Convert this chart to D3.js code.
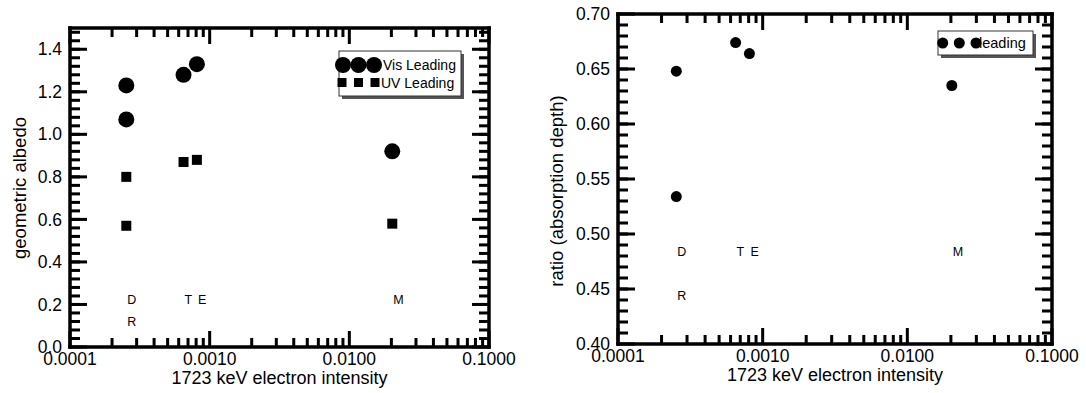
<!DOCTYPE html>
<meta charset="utf-8">
<style>
body { margin: 0; background: #fff; }
text { font-family: "Liberation Sans", Arial, Helvetica, sans-serif; fill: #000; }
</style>
<svg width="1086" height="393"></svg>
<script src="https://d3js.org/d3.v7.min.js"></script>
<script>

// data
var sites = ["D", "R", "T", "E", "M"];
var intensity = [0.000253, 0.000253, 0.00065, 0.00081, 0.0203];
var visAlbedo = [1.23, 1.07, 1.28, 1.33, 0.92];
var uvAlbedo = [0.80, 0.57, 0.87, 0.88, 0.58];
var depthRatio = [0.648, 0.534, 0.674, 0.664, 0.635];
var labelRow = [0, 1, 0, 0, 0];

var xMajor = [0.0001, 0.001, 0.01, 0.1];
var xMinor = [];
xMajor.slice(0, 3).forEach(function(d) { for (var k = 2; k < 10; k++) xMinor.push(d * k); });

var svg = d3.select("svg");
var TW = 3; // tick thickness

function drawPanel(p) {
  var x = d3.scaleLog().domain([1e-4, 1e-1]).range([p.left, p.right]);
  var y = d3.scaleLinear().domain(p.yDomain).range([p.bottom, p.top]);
  var g = svg.append("g");

  // inward ticks on all four sides, as small filled bars
  function xticks(vals, len) {
    var t = g.append("g").attr("fill", "#000");
    t.selectAll(".b").data(vals).enter().append("rect")
      .attr("x", function(d) { return x(d) - TW / 2; }).attr("y", p.bottom - len)
      .attr("width", TW).attr("height", len);
    t.selectAll(".t").data(vals).enter().append("rect")
      .attr("x", function(d) { return x(d) - TW / 2; }).attr("y", p.top)
      .attr("width", TW).attr("height", len);
  }
  function yticks(vals, len) {
    var t = g.append("g").attr("fill", "#000");
    t.selectAll(".l").data(vals).enter().append("rect")
      .attr("y", function(d) { return y(d) - TW / 2; }).attr("x", p.left)
      .attr("height", TW).attr("width", len);
    t.selectAll(".r").data(vals).enter().append("rect")
      .attr("y", function(d) { return y(d) - TW / 2; }).attr("x", p.right - len)
      .attr("height", TW).attr("width", len);
  }
  xticks(xMajor, 16); xticks(xMinor, 9);
  yticks(p.yMajor, 17); yticks(p.yMinor, 10);

  // thick frame
  var fw = 3.5, w = p.right - p.left, h = p.bottom - p.top;
  var fr = g.append("g").attr("fill", "#000");
  fr.append("rect").attr("x", p.left - fw / 2).attr("y", p.top - fw / 2).attr("width", w + fw).attr("height", fw);
  fr.append("rect").attr("x", p.left - fw / 2).attr("y", p.bottom - fw / 2).attr("width", w + fw).attr("height", fw);
  fr.append("rect").attr("x", p.left - fw / 2).attr("y", p.top - fw / 2).attr("width", fw).attr("height", h + fw);
  fr.append("rect").attr("x", p.right - fw / 2).attr("y", p.top - fw / 2).attr("width", fw).attr("height", h + fw);

  var fx = d3.format(".4f"), fy = d3.format(p.yFmt);
  g.append("g").selectAll("text").data(xMajor).enter().append("text")
    .attr("x", function(d) { return x(d); }).attr("y", p.bottom + 18)
    .attr("text-anchor", "middle").style("font-size", "17.5px")
    .text(fx);
  g.append("g").selectAll("text").data(p.yMajor).enter().append("text")
    .attr("x", p.left - 8).attr("y", function(d) { return y(d); }).attr("dy", "0.35em")
    .attr("text-anchor", "end").style("font-size", "17.5px")
    .text(fy);

  g.append("text")
    .attr("x", (p.left + p.right) / 2).attr("y", p.bottom + 37)
    .attr("text-anchor", "middle").style("font-size", "18px")
    .text("1723 keV electron intensity");

  g.append("text")
    .attr("transform", "translate(" + p.yTitleX + "," + p.yTitleY + ") rotate(-90)")
    .attr("text-anchor", "middle").style("font-size", "18.5px")
    .text(p.yTitle);

  // site letters
  g.append("g").selectAll("text").data(sites).enter().append("text")
    .attr("x", function(d, i) { return x(intensity[i]) + 1; })
    .attr("y", function(d, i) { return y(p.labelY[labelRow[i]]); })
    .style("font-size", "12.5px")
    .text(function(d) { return d; });

  return {g: g, x: x, y: y};
}

// left panel: geometric albedo
var L = drawPanel({
  left: 70, right: 489, top: 28, bottom: 347,
  yDomain: [0, 1.5], yMajor: d3.range(0, 1.41, 0.2), yMinor: d3.range(0.04, 1.5, 0.04), yFmt: ".1f",
  yTitle: "geometric albedo", yTitleX: 26, yTitleY: 188,
  labelY: [0.2, 0.1]
});

L.g.append("g").selectAll("circle").data(visAlbedo).enter().append("circle")
  .attr("cx", function(d, i) { return L.x(intensity[i]); })
  .attr("cy", function(d) { return L.y(d); })
  .attr("r", 8);

L.g.append("g").selectAll("rect").data(uvAlbedo).enter().append("rect")
  .attr("x", function(d, i) { return L.x(intensity[i]) - 5; })
  .attr("y", function(d) { return L.y(d) - 5; })
  .attr("width", 10).attr("height", 10);

var lg = L.g.append("g").attr("transform", "translate(339,51)");
lg.append("rect").attr("x", 3).attr("y", 3).attr("width", 122).attr("height", 45).attr("fill", "#555");
lg.append("rect").attr("width", 122).attr("height", 45).attr("fill", "#fff").attr("stroke", "#333").attr("stroke-width", 1);
lg.append("text").attr("x", 44).attr("y", 19).style("font-size", "14px").text("Vis Leading");
lg.append("text").attr("x", 42).attr("y", 37).style("font-size", "14px").text("UV Leading");
[4, 19.5, 35].forEach(function(cx) { lg.append("circle").attr("cx", cx).attr("cy", 14).attr("r", 8); });
[3, 19.5, 36].forEach(function(cx) {
  lg.append("rect").attr("x", cx - 4.5).attr("y", 27).attr("width", 9).attr("height", 9);
});

// right panel: absorption depth ratio
var R = drawPanel({
  left: 618, right: 1052, top: 14, bottom: 344,
  yDomain: [0.4, 0.7], yMajor: d3.range(0.4, 0.701, 0.05), yMinor: d3.range(0.41, 0.7, 0.01), yFmt: ".2f",
  yTitle: "ratio (absorption depth)", yTitleX: 563, yTitleY: 191,
  labelY: [0.48, 0.44]
});

R.g.append("g").selectAll("circle").data(depthRatio).enter().append("circle")
  .attr("cx", function(d, i) { return R.x(intensity[i]); })
  .attr("cy", function(d) { return R.y(d); })
  .attr("r", 5.5);

var rg = R.g.append("g").attr("transform", "translate(938,31)");
rg.append("rect").attr("x", 3).attr("y", 3).attr("width", 95).attr("height", 24).attr("fill", "#555");
rg.append("rect").attr("width", 95).attr("height", 24).attr("fill", "#fff").attr("stroke", "#333").attr("stroke-width", 1);
rg.append("text").attr("x", 41).attr("y", 17).style("font-size", "14.5px").text("leading");
[4.7, 21.3, 38].forEach(function(cx) { rg.append("circle").attr("cx", cx).attr("cy", 12).attr("r", 5.5); });

</script>
